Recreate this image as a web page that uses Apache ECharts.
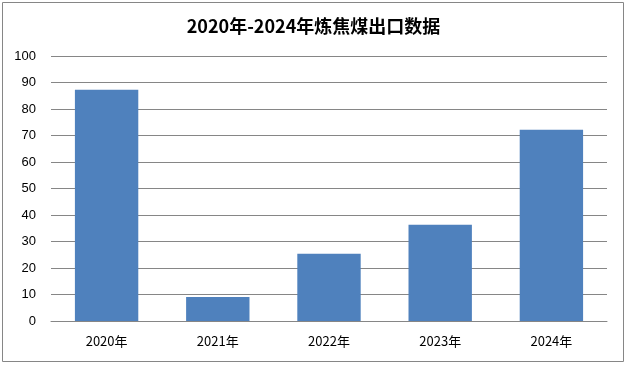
<!DOCTYPE html>
<html><head><meta charset="utf-8">
<script src="https://cdn.jsdelivr.net/npm/echarts@6/dist/echarts.min.js"></script>
<style>html,body{margin:0;padding:0;background:#fff}#c{width:627px;height:366px}</style>
</head><body><div id="c"></div>
<script>
const categories = ['2020年','2021年','2022年','2023年','2024年'];
const values = [87.3, 9.1, 25.4, 36.3, 72.2];
const titleText = '2020年-2024年炼焦煤出口数据';
const chart = echarts.init(document.getElementById('c'));
chart.setOption({
  animation: false,
  title: {text: titleText, left: 'center', top: 12,
    textStyle: {fontFamily: '"Noto Sans CJK SC", sans-serif', fontSize: 18, fontWeight: 'bold', color: '#000'}},
  graphic: [{type: 'rect', shape: {x: 2.5, y: 2.5, width: 621, height: 359},
    style: {fill: 'none', stroke: '#868686', lineWidth: 1}, silent: true}],
  grid: {left: 51, right: 20, top: 56, bottom: 45},
  xAxis: {type: 'category', data: categories,
    axisLine: {lineStyle: {color: '#868686'}}, axisTick: {show: false},
    axisLabel: {color: '#000', fontSize: 13, margin: 14, fontFamily: '"Noto Sans CJK SC", sans-serif'}},
  yAxis: {type: 'value', min: 0, max: 100, interval: 10,
    axisLine: {show: false}, axisTick: {show: false},
    splitLine: {lineStyle: {color: '#868686'}},
    axisLabel: {color: '#000', fontSize: 13, margin: 15, fontFamily: 'Liberation Sans, sans-serif'}},
  series: [{type: 'bar', data: values, barWidth: '57%', itemStyle: {color: '#4F81BD'}}]
});
</script></body></html>
